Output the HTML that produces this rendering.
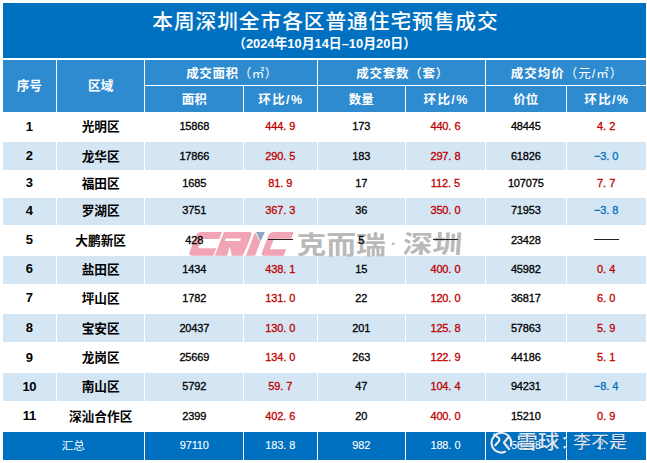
<!DOCTYPE html>
<html lang="zh-CN"><head><meta charset="utf-8"><title>本周深圳全市各区普通住宅预售成交</title>
<style>
html,body{margin:0;padding:0;background:#fff}
body{width:647px;height:463px;position:relative;overflow:hidden;font-family:"Liberation Sans",sans-serif}
.b{position:absolute}
.title{left:3px;top:3px;width:643px;height:55px;background:#0070c0}
.head{left:3px;top:60px;width:643px;height:52px;background:#2e8bd0}
.band{left:3px;width:643px;background:#d4e6f4}
.foot{left:3px;width:643px;background:#0070c0}
.v{position:absolute;width:1px;background:#fff}
.h{position:absolute;height:1px;background:#fff}
.n{position:absolute;width:80px;height:16px;line-height:16px;text-align:center;white-space:nowrap;letter-spacing:-.15px;-webkit-text-stroke:.3px}
.n i{font-style:normal;letter-spacing:3px}
.dash{position:absolute;height:1px;background:#222}
svg.g{position:absolute;left:0;top:0}
svg.g text{font-family:"Liberation Sans","Noto Sans CJK SC",sans-serif;white-space:pre}
</style></head><body>
<div class="b title"></div>
<div class="b head"></div>
<div class="b band" style="top:142.4px;height:27.6px"></div>
<div class="b band" style="top:197.8px;height:27.6px"></div>
<div class="b band" style="top:255.8px;height:27.8px"></div>
<div class="b band" style="top:314.3px;height:27.9px"></div>
<div class="b band" style="top:373.0px;height:28.1px"></div>
<div class="b foot" style="top:432.0px;height:27.7px"></div>
<div class="v" style="left:56px;top:60px;height:372.0px"></div>
<div class="v" style="left:144px;top:60px;height:399.7px"></div>
<div class="v" style="left:243px;top:85px;height:374.7px"></div>
<div class="v" style="left:317px;top:60px;height:399.7px"></div>
<div class="v" style="left:405px;top:85px;height:374.7px"></div>
<div class="v" style="left:485px;top:60px;height:399.7px"></div>
<div class="v" style="left:566px;top:85px;height:374.7px"></div>
<div class="h" style="left:144px;top:85px;width:502px"></div>
<svg class="g" width="647" height="463" viewBox="0 0 647 463" aria-hidden="true"><g transform="translate(0 255.8) skewX(-21) translate(0 -255.8)" fill="#f1a4b4" fill-rule="evenodd"><path d="M192.6 232.1H212.8V238.9H195.3V248.2H213.4V255.8H192.2Q188.2 255.8 188.2 251.8V236.5Q188.2 232.1 192.6 232.1Z"/><path d="M214.8 232.1H240.4Q243.4 232.1 243.4 235.1V246L242.5 255.8H231.8L226.2 246.6L227.2 255.8H214.8ZM219 238.6H234.4V240.9H219Z"/><path d="M246 232.1H255V255.8H246Z"/><path d="M264.6 232.1H284.6V238.7H267.4V249.2H283.6V255.8H264.2Q260.6 255.8 260.6 252.2V236.1Q260.6 232.1 264.6 232.1Z"/></g><path d="M254.6 231.6H266L260.7 243Z" fill="#fff"/><path d="M256 232.1H264.8L260.6 241.4Z" fill="#8fa6c4"/></svg>

<svg class="g" width="647" height="463" viewBox="0 0 647 463" aria-hidden="true">
<text x="152.28" y="29.27" font-size="20.7" font-weight="500" fill="#fff" textLength="345.4" lengthAdjust="spacing">本周深圳全市各区普通住宅预售成交</text>
<text x="233.02" y="47.98" font-size="13.1" font-weight="bold" fill="#fff" textLength="183" lengthAdjust="spacingAndGlyphs">（2024年10月14日–10月20日）</text>
<text x="16.7" y="90.19" font-size="12.6" font-weight="bold" fill="#fff">序号</text>
<text x="88.1" y="90.19" font-size="12.6" font-weight="bold" fill="#fff">区域</text>
<text x="186.25" y="77.75" font-size="12.5" fill="#fff" textLength="91.1" lengthAdjust="spacing"><tspan font-weight="bold">成交面积</tspan>（㎡）</text>
<text x="356.3" y="77.55" font-size="12.5" fill="#fff" textLength="92" lengthAdjust="spacing"><tspan font-weight="bold">成交套数</tspan><tspan font-weight="500">（</tspan><tspan font-weight="bold">套</tspan><tspan font-weight="500">）</tspan></text>
<text x="510.85" y="77.75" font-size="12.5" fill="#fff" textLength="111.5" lengthAdjust="spacing"><tspan font-weight="bold">成交均价</tspan>（元/㎡）</text>
<text x="181.8" y="104.05" font-size="12.5" font-weight="bold" fill="#fff">面积</text>
<text x="258.36" y="104.05" font-size="12.5" font-weight="bold" fill="#fff" textLength="43.7" lengthAdjust="spacing">环比/%</text>
<text x="348.8" y="104.05" font-size="12.5" font-weight="bold" fill="#fff">数量</text>
<text x="423.56" y="104.05" font-size="12.5" font-weight="bold" fill="#fff" textLength="43.7" lengthAdjust="spacing">环比/%</text>
<text x="513.3" y="104.05" font-size="12.5" font-weight="bold" fill="#fff">价位</text>
<text x="584.26" y="104.05" font-size="12.5" font-weight="bold" fill="#fff" textLength="43.7" lengthAdjust="spacing">环比/%</text>
<text x="81.65" y="131.23" font-size="12.7" font-weight="bold" fill="#000">光明区</text>
<text x="81.65" y="160.73" font-size="12.7" font-weight="bold" fill="#000">龙华区</text>
<text x="81.65" y="188.03" font-size="12.7" font-weight="bold" fill="#000">福田区</text>
<text x="81.65" y="215.23" font-size="12.7" font-weight="bold" fill="#000">罗湖区</text>
<text x="75.3" y="244.63" font-size="12.7" font-weight="bold" fill="#000">大鹏新区</text>
<text x="81.65" y="273.93" font-size="12.7" font-weight="bold" fill="#000">盐田区</text>
<text x="81.65" y="302.83" font-size="12.7" font-weight="bold" fill="#000">坪山区</text>
<text x="81.65" y="332.83" font-size="12.7" font-weight="bold" fill="#000">宝安区</text>
<text x="81.65" y="362.23" font-size="12.7" font-weight="bold" fill="#000">龙岗区</text>
<text x="81.65" y="391.33" font-size="12.7" font-weight="bold" fill="#000">南山区</text>
<text x="68.95" y="420.63" font-size="12.7" font-weight="bold" fill="#000">深汕合作区</text>
<text x="61.7" y="449.91" font-size="11.6" fill="#fff">汇总</text>
<text x="296.4" y="253.5" font-size="25" font-weight="bold" fill="#b9b9b9" textLength="89.5" lengthAdjust="spacingAndGlyphs">克而瑞</text>
<text x="393.5" y="249.46" font-size="17" font-weight="bold" fill="#b9b9b9" text-anchor="middle">·</text>
<g transform="translate(0 244) skewX(-4) translate(0 -244)"><text x="403" y="253.5" font-size="25" font-weight="bold" fill="#b9b9b9" textLength="59.1" lengthAdjust="spacingAndGlyphs">深圳</text></g>
</svg>
<div class="dash" style="left:267.7px;top:239.2px;width:25px"></div>
<div class="dash" style="left:432.9px;top:239.2px;width:25px"></div>
<div class="dash" style="left:593.6px;top:239.2px;width:25px"></div>
<div class="n" style="left:-10.7px;top:118.6px;font-size:13px;color:#000;font-weight:bold;-webkit-text-stroke:0;letter-spacing:-.3px;">1</div>
<div class="n" style="left:154.3px;top:118.3px;font-size:11px;color:#000;">15868</div>
<div class="n" style="left:321.3px;top:118.3px;font-size:11px;color:#000;">173</div>
<div class="n" style="left:485.8px;top:118.3px;font-size:11px;color:#000;">48445</div>
<div class="n" style="left:240.2px;top:118.3px;font-size:11px;color:#c00000;">444<i>.</i>9</div>
<div class="n" style="left:405.4px;top:118.3px;font-size:11px;color:#c00000;">440<i>.</i>6</div>
<div class="n" style="left:566.1px;top:118.3px;font-size:11px;color:#c00000;">4<i>.</i>2</div>
<div class="n" style="left:-10.7px;top:148.1px;font-size:13px;color:#000;font-weight:bold;-webkit-text-stroke:0;letter-spacing:-.3px;">2</div>
<div class="n" style="left:154.3px;top:147.8px;font-size:11px;color:#000;">17866</div>
<div class="n" style="left:321.3px;top:147.8px;font-size:11px;color:#000;">183</div>
<div class="n" style="left:485.8px;top:147.8px;font-size:11px;color:#000;">61826</div>
<div class="n" style="left:240.2px;top:147.8px;font-size:11px;color:#c00000;">290<i>.</i>5</div>
<div class="n" style="left:405.4px;top:147.8px;font-size:11px;color:#c00000;">297<i>.</i>8</div>
<div class="n" style="left:566.1px;top:147.8px;font-size:11px;color:#0070c0;">−3<i>.</i>0</div>
<div class="n" style="left:-10.7px;top:175.4px;font-size:13px;color:#000;font-weight:bold;-webkit-text-stroke:0;letter-spacing:-.3px;">3</div>
<div class="n" style="left:154.3px;top:175.1px;font-size:11px;color:#000;">1685</div>
<div class="n" style="left:321.3px;top:175.1px;font-size:11px;color:#000;">17</div>
<div class="n" style="left:485.8px;top:175.1px;font-size:11px;color:#000;">107075</div>
<div class="n" style="left:240.2px;top:175.1px;font-size:11px;color:#c00000;">81<i>.</i>9</div>
<div class="n" style="left:405.4px;top:175.1px;font-size:11px;color:#c00000;">112<i>.</i>5</div>
<div class="n" style="left:566.1px;top:175.1px;font-size:11px;color:#c00000;">7<i>.</i>7</div>
<div class="n" style="left:-10.7px;top:202.6px;font-size:13px;color:#000;font-weight:bold;-webkit-text-stroke:0;letter-spacing:-.3px;">4</div>
<div class="n" style="left:154.3px;top:202.3px;font-size:11px;color:#000;">3751</div>
<div class="n" style="left:321.3px;top:202.3px;font-size:11px;color:#000;">36</div>
<div class="n" style="left:485.8px;top:202.3px;font-size:11px;color:#000;">71953</div>
<div class="n" style="left:240.2px;top:202.3px;font-size:11px;color:#c00000;">367<i>.</i>3</div>
<div class="n" style="left:405.4px;top:202.3px;font-size:11px;color:#c00000;">350<i>.</i>0</div>
<div class="n" style="left:566.1px;top:202.3px;font-size:11px;color:#0070c0;">−3<i>.</i>8</div>
<div class="n" style="left:-10.7px;top:232.0px;font-size:13px;color:#000;font-weight:bold;-webkit-text-stroke:0;letter-spacing:-.3px;">5</div>
<div class="n" style="left:154.3px;top:231.7px;font-size:11px;color:#000;">428</div>
<div class="n" style="left:321.3px;top:231.7px;font-size:11px;color:#000;">5</div>
<div class="n" style="left:485.8px;top:231.7px;font-size:11px;color:#000;">23428</div>
<div class="n" style="left:-10.7px;top:261.3px;font-size:13px;color:#000;font-weight:bold;-webkit-text-stroke:0;letter-spacing:-.3px;">6</div>
<div class="n" style="left:154.3px;top:261.0px;font-size:11px;color:#000;">1434</div>
<div class="n" style="left:321.3px;top:261.0px;font-size:11px;color:#000;">15</div>
<div class="n" style="left:485.8px;top:261.0px;font-size:11px;color:#000;">45982</div>
<div class="n" style="left:240.2px;top:261.0px;font-size:11px;color:#c00000;">438<i>.</i>1</div>
<div class="n" style="left:405.4px;top:261.0px;font-size:11px;color:#c00000;">400<i>.</i>0</div>
<div class="n" style="left:566.1px;top:261.0px;font-size:11px;color:#c00000;">0<i>.</i>4</div>
<div class="n" style="left:-10.7px;top:290.2px;font-size:13px;color:#000;font-weight:bold;-webkit-text-stroke:0;letter-spacing:-.3px;">7</div>
<div class="n" style="left:154.3px;top:289.9px;font-size:11px;color:#000;">1782</div>
<div class="n" style="left:321.3px;top:289.9px;font-size:11px;color:#000;">22</div>
<div class="n" style="left:485.8px;top:289.9px;font-size:11px;color:#000;">36817</div>
<div class="n" style="left:240.2px;top:289.9px;font-size:11px;color:#c00000;">131<i>.</i>0</div>
<div class="n" style="left:405.4px;top:289.9px;font-size:11px;color:#c00000;">120<i>.</i>0</div>
<div class="n" style="left:566.1px;top:289.9px;font-size:11px;color:#c00000;">6<i>.</i>0</div>
<div class="n" style="left:-10.7px;top:320.2px;font-size:13px;color:#000;font-weight:bold;-webkit-text-stroke:0;letter-spacing:-.3px;">8</div>
<div class="n" style="left:154.3px;top:319.9px;font-size:11px;color:#000;">20437</div>
<div class="n" style="left:321.3px;top:319.9px;font-size:11px;color:#000;">201</div>
<div class="n" style="left:485.8px;top:319.9px;font-size:11px;color:#000;">57863</div>
<div class="n" style="left:240.2px;top:319.9px;font-size:11px;color:#c00000;">130<i>.</i>0</div>
<div class="n" style="left:405.4px;top:319.9px;font-size:11px;color:#c00000;">125<i>.</i>8</div>
<div class="n" style="left:566.1px;top:319.9px;font-size:11px;color:#c00000;">5<i>.</i>9</div>
<div class="n" style="left:-10.7px;top:349.6px;font-size:13px;color:#000;font-weight:bold;-webkit-text-stroke:0;letter-spacing:-.3px;">9</div>
<div class="n" style="left:154.3px;top:349.3px;font-size:11px;color:#000;">25669</div>
<div class="n" style="left:321.3px;top:349.3px;font-size:11px;color:#000;">263</div>
<div class="n" style="left:485.8px;top:349.3px;font-size:11px;color:#000;">44186</div>
<div class="n" style="left:240.2px;top:349.3px;font-size:11px;color:#c00000;">134<i>.</i>0</div>
<div class="n" style="left:405.4px;top:349.3px;font-size:11px;color:#c00000;">122<i>.</i>9</div>
<div class="n" style="left:566.1px;top:349.3px;font-size:11px;color:#c00000;">5<i>.</i>1</div>
<div class="n" style="left:-10.7px;top:378.7px;font-size:13px;color:#000;font-weight:bold;-webkit-text-stroke:0;letter-spacing:-.3px;">10</div>
<div class="n" style="left:154.3px;top:378.4px;font-size:11px;color:#000;">5792</div>
<div class="n" style="left:321.3px;top:378.4px;font-size:11px;color:#000;">47</div>
<div class="n" style="left:485.8px;top:378.4px;font-size:11px;color:#000;">94231</div>
<div class="n" style="left:240.2px;top:378.4px;font-size:11px;color:#c00000;">59<i>.</i>7</div>
<div class="n" style="left:405.4px;top:378.4px;font-size:11px;color:#c00000;">104<i>.</i>4</div>
<div class="n" style="left:566.1px;top:378.4px;font-size:11px;color:#0070c0;">−8<i>.</i>4</div>
<div class="n" style="left:-10.7px;top:408.0px;font-size:13px;color:#000;font-weight:bold;-webkit-text-stroke:0;letter-spacing:-.3px;">11</div>
<div class="n" style="left:154.3px;top:407.7px;font-size:11px;color:#000;">2399</div>
<div class="n" style="left:321.3px;top:407.7px;font-size:11px;color:#000;">20</div>
<div class="n" style="left:485.8px;top:407.7px;font-size:11px;color:#000;">15210</div>
<div class="n" style="left:240.2px;top:407.7px;font-size:11px;color:#c00000;">402<i>.</i>6</div>
<div class="n" style="left:405.4px;top:407.7px;font-size:11px;color:#c00000;">400<i>.</i>0</div>
<div class="n" style="left:566.1px;top:407.7px;font-size:11px;color:#c00000;">0<i>.</i>9</div>
<div class="n" style="left:154.3px;top:436.9px;font-size:11px;color:#fff;-webkit-text-stroke:.1px;">97110</div>
<div class="n" style="left:240.2px;top:436.9px;font-size:11px;color:#fff;-webkit-text-stroke:.1px;">183<i>.</i>8</div>
<div class="n" style="left:321.3px;top:436.9px;font-size:11px;color:#fff;-webkit-text-stroke:.1px;">982</div>
<div class="n" style="left:405.4px;top:436.9px;font-size:11px;color:#fff;-webkit-text-stroke:.1px;">188<i>.</i>0</div>
<div class="n" style="left:485.8px;top:436.9px;font-size:11px;color:#fff;-webkit-text-stroke:.1px;">56238</div>
<div class="n" style="left:566.1px;top:436.9px;font-size:11px;color:#fff;-webkit-text-stroke:.1px;">2<i>.</i>7</div>
<svg class="g" width="647" height="463" viewBox="0 0 647 463" aria-hidden="true"><g fill="none" stroke-linecap="round" stroke-linejoin="round" stroke-width="2.2"><g stroke="#0a4a86" opacity=".6" transform="translate(.8 .8)"><path d="M505.2 451.8A9.8 9.8 0 1 1 510.7 445.8"/><path d="M494.3 434.5L498.3 437.6Q500.5 439.5 498.6 441.6L495.4 445.3"/><path d="M508 437.8L504 442.8L509.2 449.2"/></g><g stroke="#e6edf6"><path d="M505.2 451.8A9.8 9.8 0 1 1 510.7 445.8"/><path d="M494.3 434.5L498.3 437.6Q500.5 439.5 498.6 441.6L495.4 445.3"/><path d="M508 437.8L504 442.8L509.2 449.2"/></g></g></svg>

<svg class="g" width="647" height="463" viewBox="0 0 647 463" aria-hidden="true">
<g fill="#0a4a86" opacity="0.6">
<text x="517.5" y="449.82" font-size="19.8" font-weight="500" textLength="42.6" lengthAdjust="spacingAndGlyphs">雪球</text>
<text x="561.1" y="449.15" font-size="17.5">：</text>
<text x="574.1" y="449.19" font-size="17.6" textLength="53.8" lengthAdjust="spacing">李不是</text>
</g>
<g fill="#e6edf6" opacity="0.95">
<text x="516.6" y="448.92" font-size="19.8" font-weight="500" textLength="42.6" lengthAdjust="spacingAndGlyphs">雪球</text>
<text x="560.2" y="448.25" font-size="17.5">：</text>
<text x="573.2" y="448.29" font-size="17.6" textLength="53.8" lengthAdjust="spacing">李不是</text>
</g>
</svg>
</body></html>
